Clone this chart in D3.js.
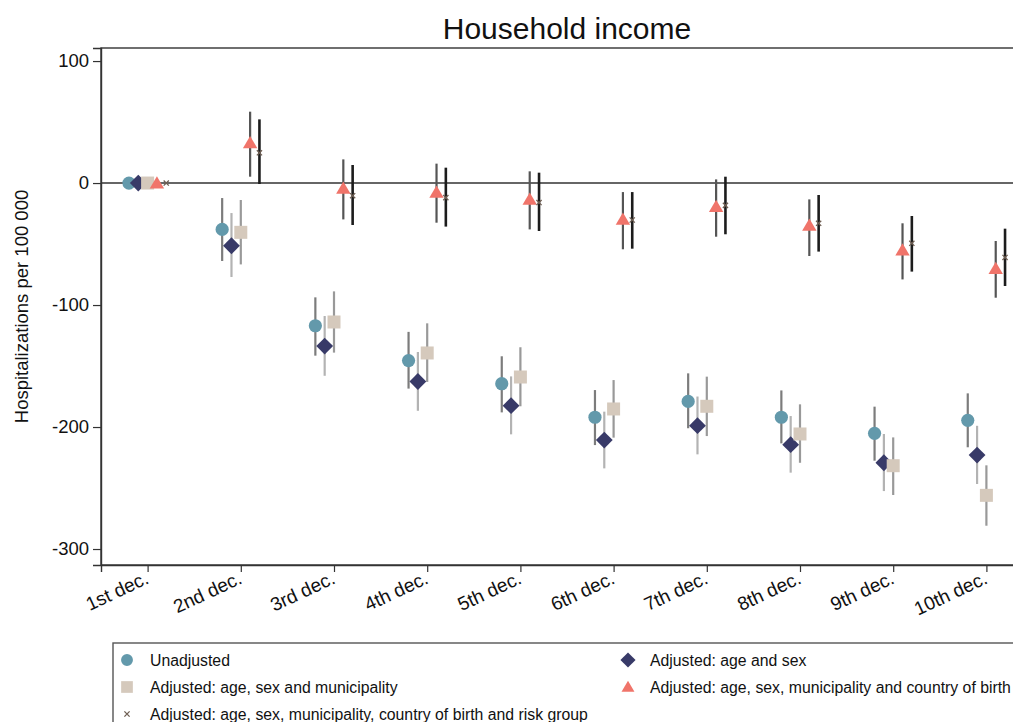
<!DOCTYPE html>
<html>
<head>
<meta charset="utf-8">
<script src="https://cdn.jsdelivr.net/npm/d3@7"></script>
<style>
  html, body { margin: 0; padding: 0; background: #fff; }
  svg { display: block; font-family: "Liberation Sans", Arial, sans-serif; }
</style>
</head>
<body>
<svg id="chart" width="1013" height="722"></svg>
<script>
// Income deciles (1st decile is the reference group)
const categories = ["1st dec.", "2nd dec.", "3rd dec.", "4th dec.", "5th dec.",
                    "6th dec.", "7th dec.", "8th dec.", "9th dec.", "10th dec."];

// Difference in hospitalizations per 100 000, with 95% confidence limits
const unadjusted   = [0, -38.0, -117.0, -145.5, -164.5, -192.0, -179.0, -192.0, -205.2, -194.5];
const unadjustedLo = [null, -63.9, -141.5, -168.5, -188.0, -214.8, -201.0, -213.4, -227.6, -216.6];
const unadjustedHi = [null, -12.3, -93.7, -122.0, -142.0, -169.7, -156.0, -170.0, -183.3, -172.4];

const ageSex   = [0, -51.4, -133.6, -162.7, -182.5, -210.7, -198.9, -214.5, -229.3, -223.0];
const ageSexLo = [null, -77.0, -158.0, -186.7, -206.0, -233.9, -222.4, -237.4, -252.5, -246.7];
const ageSexHi = [null, -24.6, -109.0, -138.5, -158.5, -187.4, -175.0, -191.0, -205.7, -199.0];

const ageSexMun   = [0, -40.4, -113.9, -139.3, -159.0, -185.2, -183.0, -205.7, -231.7, -256.0];
const ageSexMunLo = [null, -66.7, -139.0, -163.0, -183.0, -208.7, -207.4, -229.3, -255.7, -280.9];
const ageSexMunHi = [null, -13.9, -88.8, -115.0, -134.6, -161.5, -158.7, -181.4, -208.5, -231.4];

const ageSexMunCob   = [0, 33.0, -4.4, -7.6, -13.4, -29.8, -19.4, -34.7, -54.9, -70.2];
const ageSexMunCobLo = [null, 5.2, -29.8, -32.5, -38.0, -54.3, -44.0, -59.8, -79.0, -94.0];
const ageSexMunCobHi = [null, 58.5, 19.4, 15.9, 9.6, -7.4, 3.0, -13.4, -33.0, -47.5];

const fullModel   = [0, 24.8, -10.4, -12.0, -16.0, -30.3, -18.3, -33.0, -49.4, -61.0];
const fullModelLo = [null, -0.8, -34.4, -35.7, -39.3, -53.8, -42.0, -56.2, -72.6, -84.4];
const fullModelHi = [null, 52.2, 14.8, 12.6, 8.5, -7.4, 5.2, -9.8, -27.0, -37.4];

const seriesNames = [
  "Unadjusted",
  "Adjusted: age and sex",
  "Adjusted: age, sex and municipality",
  "Adjusted: age, sex, municipality and country of birth",
  "Adjusted: age, sex, municipality, country of birth and risk group"
];

const yTicks = [100, 0, -100, -200, -300];

// Series table used for drawing
const series = [
  { name: seriesNames[0], est: unadjusted,    lo: unadjustedLo,    hi: unadjustedHi,    shape: "circle",   fill: "#6399ab", ci: "#7c7c7c", ciw: 2.2, off: -0.2 },
  { name: seriesNames[1], est: ageSex,        lo: ageSexLo,        hi: ageSexHi,        shape: "diamond",  fill: "#383a68", ci: "#b3b3b3", ciw: 2.2, off: -0.1 },
  { name: seriesNames[2], est: ageSexMun,     lo: ageSexMunLo,     hi: ageSexMunHi,     shape: "square",   fill: "#d5c9bc", ci: "#999999", ciw: 2.2, off: 0.0 },
  { name: seriesNames[3], est: ageSexMunCob,  lo: ageSexMunCobLo,  hi: ageSexMunCobHi,  shape: "triangle", fill: "#f0746a", ci: "#555555", ciw: 2.2, off: 0.1 },
  { name: seriesNames[4], est: fullModel,     lo: fullModelLo,     hi: fullModelHi,     shape: "cross",    fill: "#6e5e52", ci: "#1c1c1c", ciw: 2.6, off: 0.2 }
];

const svg = d3.select("#chart");
const plot = { left: 101, right: 1033, top: 48, bottom: 565 };

const x = d3.scaleLinear().domain([0.5, 10.5]).range([plot.left, plot.right]);
const y = d3.scaleLinear().domain([-313.1, 110.7]).range([plot.bottom, plot.top]);

// Title
svg.append("text")
  .attr("x", (plot.left + plot.right) / 2)
  .attr("y", 39)
  .attr("text-anchor", "middle")
  .attr("font-size", 30)
  .attr("fill", "#111")
  .text("Household income");

// Plot frame
svg.append("rect")
  .attr("x", plot.left).attr("y", plot.top)
  .attr("width", plot.right - plot.left).attr("height", plot.bottom - plot.top)
  .attr("fill", "none").attr("stroke", "#333").attr("stroke-width", 1.4);

// Reference line at zero
svg.append("line")
  .attr("x1", plot.left).attr("x2", plot.right)
  .attr("y1", y(0)).attr("y2", y(0))
  .attr("stroke", "#333").attr("stroke-width", 1.6);

// Y axis (plain hyphen for negative numbers)
const yAxis = svg.append("g")
  .attr("transform", `translate(${plot.left},0)`)
  .call(d3.axisLeft(y).tickValues(yTicks).tickSize(8).tickPadding(4).tickFormat(d => String(d)));
yAxis.select(".domain").attr("stroke", "#333").attr("stroke-width", 1.4);
yAxis.selectAll(".tick line").attr("stroke", "#333").attr("stroke-width", 1.2);
yAxis.selectAll(".tick text").attr("font-size", 18.5).attr("fill", "#111")
  .attr("font-family", "Liberation Sans, Arial, sans-serif");

svg.append("text")
  .attr("transform", `translate(28,${(plot.top + plot.bottom) / 2}) rotate(-90)`)
  .attr("text-anchor", "middle")
  .attr("font-size", 18.5)
  .attr("fill", "#111")
  .text("Hospitalizations per 100 000");

// X axis
const xAxis = svg.append("g")
  .attr("transform", `translate(0,${plot.bottom})`)
  .call(d3.axisBottom(x).tickValues(d3.range(1, categories.length + 1)).tickSize(7).tickFormat(""));
xAxis.select(".domain").attr("stroke", "#333").attr("stroke-width", 1.4);
xAxis.selectAll(".tick line").attr("stroke", "#333").attr("stroke-width", 1.2);

svg.append("g").selectAll("text")
  .data(categories)
  .join("text")
  .attr("transform", (d, i) => `translate(${x(i + 1) - 4},${plot.bottom + 4}) rotate(-25)`)
  .attr("text-anchor", "end")
  .attr("dy", "0.8em")
  .attr("font-size", 19)
  .attr("fill", "#111")
  .text(d => d);

// Marker symbol paths
function markerPath(shape, s) {
  switch (shape) {
    case "circle":   return d3.symbol(d3.symbolCircle, Math.PI * s * s)();
    case "square":   return `M${-s},${-s}H${s}V${s}H${-s}Z`;
    case "diamond":  return `M0,${-s}L${s},0L0,${s}L${-s},0Z`;
    case "triangle": return `M0,${-s * 0.95}L${s},${s * 0.75}L${-s},${s * 0.75}Z`;
    case "cross":    return `M${-s},${-s}L${s},${s}M${s},${-s}L${-s},${s}`;
  }
}
const markerSize = { circle: 6.6, diamond: 8.4, square: 6.5, triangle: 7.2, cross: 2.6 };

function drawMarker(g, shape, fill, cx, cy, scale) {
  const s = markerSize[shape] * (scale || 1);
  const p = g.append("path")
    .attr("transform", `translate(${cx},${cy})`)
    .attr("d", markerPath(shape, s));
  if (shape === "cross") {
    p.attr("fill", "none").attr("stroke", fill).attr("stroke-width", 1.3);
  } else {
    p.attr("fill", fill);
  }
}

// Confidence intervals
const ciLayer = svg.append("g");
series.forEach(sr => {
  ciLayer.append("g").selectAll("line")
    .data(sr.est.map((v, i) => ({ i, lo: sr.lo[i], hi: sr.hi[i] })).filter(d => d.lo !== null))
    .join("line")
    .attr("x1", d => x(d.i + 1 + sr.off)).attr("x2", d => x(d.i + 1 + sr.off))
    .attr("y1", d => y(d.lo)).attr("y2", d => y(d.hi))
    .attr("stroke", sr.ci).attr("stroke-width", sr.ciw);
});

// Point estimates
const markLayer = svg.append("g");
series.forEach(sr => {
  const g = markLayer.append("g");
  sr.est.forEach((v, i) => drawMarker(g, sr.shape, sr.fill, x(i + 1 + sr.off), y(v)));
});

// Legend
const legend = svg.append("g");
legend.append("rect")
  .attr("x", 113).attr("y", 643)
  .attr("width", 940).attr("height", 100)
  .attr("fill", "#fff").attr("stroke", "#555").attr("stroke-width", 1.4);

const legendPos = [
  { mx: 127, tx: 150, y: 660 },
  { mx: 628, tx: 650, y: 660 },
  { mx: 127, tx: 150, y: 687 },
  { mx: 628, tx: 650, y: 687 },
  { mx: 127, tx: 150, y: 714 }
];
series.forEach((sr, k) => {
  const p = legendPos[k];
  drawMarker(legend, sr.shape, sr.fill, p.mx, p.y, sr.shape === "cross" ? 1 : 0.9);
  legend.append("text")
    .attr("x", p.tx).attr("y", p.y)
    .attr("dy", "0.35em")
    .attr("font-size", 15.8)
    .attr("fill", "#111")
    .text(sr.name);
});
</script>
</body>
</html>
